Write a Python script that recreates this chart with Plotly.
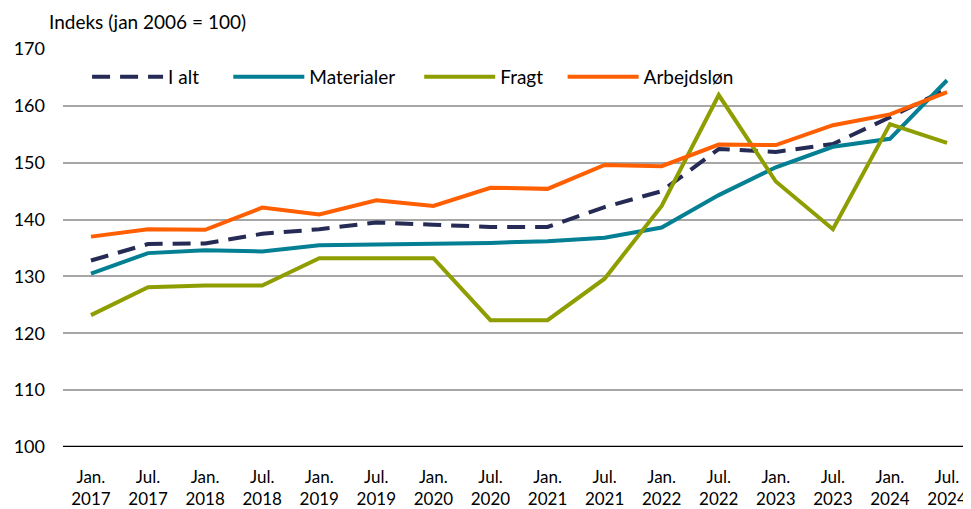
import plotly.graph_objects as go

periods = ["Jan.<br>2017", "Jul.<br>2017", "Jan.<br>2018", "Jul.<br>2018", "Jan.<br>2019", "Jul.<br>2019",
           "Jan.<br>2020", "Jul.<br>2020", "Jan.<br>2021", "Jul.<br>2021", "Jan.<br>2022", "Jul.<br>2022",
           "Jan.<br>2023", "Jul.<br>2023", "Jan.<br>2024", "Jul.<br>2024"]

i_alt = [132.8, 135.7, 135.8, 137.5, 138.3, 139.5, 139.1, 138.7, 138.7, 142.2, 145.0, 152.4, 151.9, 153.3, 158.0, 163.0]
materialer = [130.5, 134.1, 134.6, 134.4, 135.5, 135.6, 135.8, 135.9, 136.2, 136.8, 138.6, 144.3, 149.2, 152.8, 154.2, 164.5]
fragt = [123.2, 128.1, 128.4, 128.4, 133.2, 133.2, 133.2, 122.3, 122.3, 129.6, 142.4, 161.9, 146.7, 138.3, 156.8, 153.5]
arbejdslon = [137.0, 138.3, 138.2, 142.1, 140.9, 143.4, 142.4, 145.6, 145.4, 149.6, 149.4, 153.2, 153.1, 156.6, 158.5, 162.4]

y_ticks = [100, 110, 120, 130, 140, 150, 160, 170]

x = list(range(len(periods)))
NB = "\u00a0"

fig = go.Figure()
fig.add_trace(go.Scatter(x=x, y=i_alt, name="I alt" + NB * 5, mode="lines",
                         line=dict(color="#262B55", width=4, dash="18px,10px")))
fig.add_trace(go.Scatter(x=x, y=materialer, name="Materialer" + NB * 4, mode="lines",
                         line=dict(color="#047F93", width=4)))
fig.add_trace(go.Scatter(x=x, y=fragt, name="Fragt" + NB * 3, mode="lines",
                         line=dict(color="#8E9E00", width=4)))
fig.add_trace(go.Scatter(x=x, y=arbejdslon, name="Arbejdsløn", mode="lines",
                         line=dict(color="#FF5F00", width=4)))

# page body has an 8px margin, so the figure is sized/offset to match the 971x509 window
fig.update_layout(
    width=963, height=501,
    margin=dict(l=55, r=0, t=41, b=62),
    paper_bgcolor="white", plot_bgcolor="white",
    font=dict(family="Lato, Carlito, Calibri, sans-serif", size=17, color="#000000"),
    showlegend=True,
    legend=dict(orientation="h", x=0.0265, y=0.93, xanchor="left", yanchor="middle",
                bgcolor="rgba(0,0,0,0)", font=dict(size=19), itemwidth=71,
                traceorder="normal"),
    xaxis=dict(tickmode="array", tickvals=x, ticktext=periods, range=[-0.49, 15.42],
               showgrid=False, zeroline=False, showline=False, ticks="",
               tickfont=dict(size=17), ticklabelstandoff=18, automargin=False),
    yaxis=dict(range=[100, 170], tickvals=y_ticks, showgrid=True, gridcolor="#A6A6A6",
               gridwidth=1.5, zeroline=False, showline=False, ticks="",
               tickfont=dict(size=18), ticklabelstandoff=17, automargin=False),
    annotations=[dict(text="Indeks (jan 2006 = 100)", xref="paper", yref="paper",
                      x=-0.018, y=1.0, xanchor="left", yanchor="bottom", yshift=14,
                      showarrow=False, font=dict(size=19))],
    shapes=[dict(type="line", xref="paper", yref="y", x0=0, x1=1, y0=100, y1=100,
                 line=dict(color="#000000", width=2.5))],
)

fig.write_html("out.html")
